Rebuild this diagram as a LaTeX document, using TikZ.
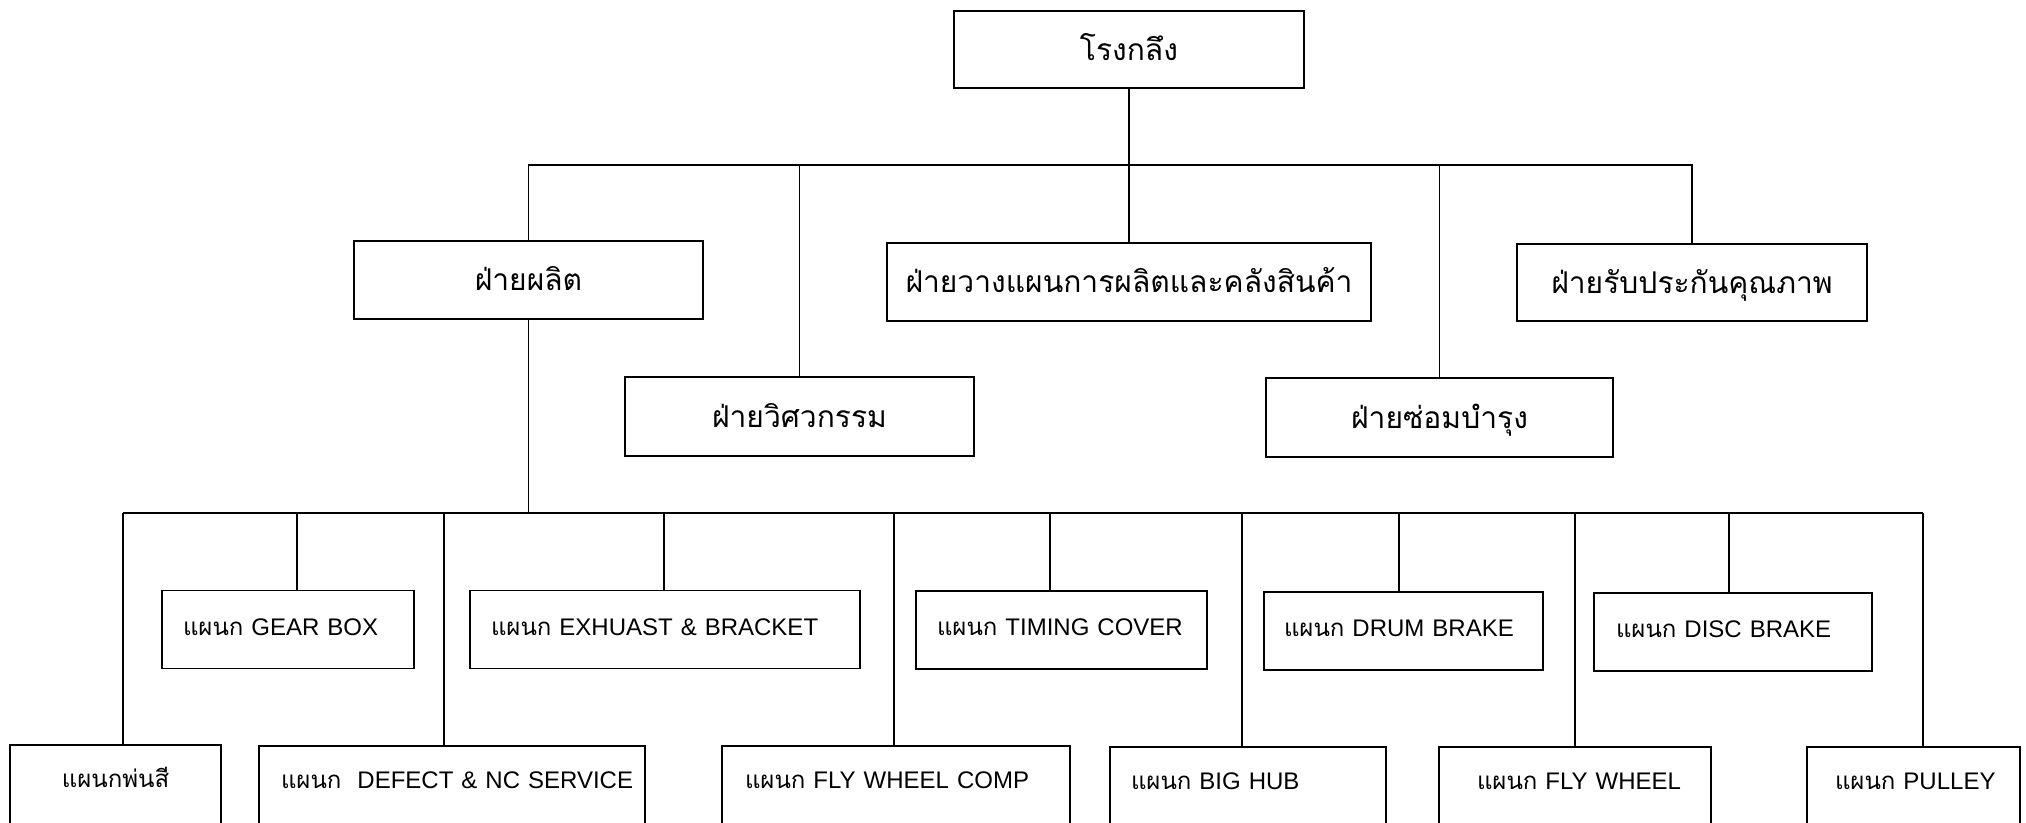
\documentclass[tikz,border=0pt]{standalone}
\usepackage{fontspec}
\setmainfont{Liberation Sans}
\newfontfamily\thai[Script=Thai]{Loma}
\begin{document}
\begin{tikzpicture}[x=0.5pt,y=-0.5pt,
  box/.style={draw=black, line width=0.9pt, inner ysep=0pt, minimum height=39pt,
    text height=9pt, text depth=3pt},
  head/.style={box, inner xsep=0pt, text height=12pt, text depth=1pt,
    font=\thai\fontsize{15}{18}\selectfont},
  dept/.style={box, align=left, font=\fontsize{12}{14}\selectfont},
  low/.style={minimum height=42pt, text depth=9pt},
  link/.style={draw=black, line width=0.75pt}]
\useasboundingbox (0,0) rectangle (2026,823);
\clip (0,0) rectangle (2026,823);

% level 1 and 2
\node[head, minimum width=175pt, minimum height=38.5pt] (top) at (1129,49.5) {โรงกลึง};
\node[head, minimum width=174.5pt] (prod) at (528.5,280) {ฝ่ายผลิต};
\node[head, minimum width=242pt] (plan) at (1129,282) {ฝ่ายวางแผนการผลิตและคลังสินค้า};
\node[head, minimum width=175pt, minimum height=38.5pt] (qa) at (1692,282.5) {ฝ่ายรับประกันคุณภาพ};
\node[head, minimum width=174.5pt, minimum height=39.5pt] (eng) at (799.5,416.5) {ฝ่ายวิศวกรรม};
\node[head, minimum width=173.5pt, minimum height=39.5pt] (maint) at (1439.5,417.5) {ฝ่ายซ่อมบำรุง};

% level 3 (upper row)
\node[dept, inner xsep=10.5pt, text width=105pt] (gear) at (288,629.5) {\mbox{{\thai แผนก} GEAR BOX}};
\node[dept, inner xsep=10.5pt, text width=174pt] (exh) at (665,629.5) {\mbox{{\thai แผนก} EXHUAST \& BRACKET}};
\node[dept, inner xsep=10.5pt, text width=124.5pt] (timing) at (1061.5,630) {\mbox{{\thai แผนก} TIMING COVER}};
\node[dept, inner xsep=10pt, text width=119.5pt] (drum) at (1403.5,631) {\mbox{{\thai แผนก} DRUM BRAKE}};
\node[dept, inner xsep=11pt, text width=117pt] (disc) at (1733,632) {\mbox{{\thai แผนก} DISC BRAKE}};

% level 3 (lower row)
\node[dept, low, align=center, inner xsep=10.5pt, text width=84.5pt] (paint) at (115.5,787) {\mbox{\thai แผนกพ่นสี}};
\node[dept, low, inner xsep=11pt, text width=171pt] (defect) at (452,788) {\mbox{{\thai แผนก}\ \ DEFECT \& NC SERVICE}};
\node[dept, low, inner xsep=11.5pt, text width=151pt] (fwc) at (896,788) {\mbox{{\thai แผนก} FLY WHEEL COMP}};
\node[dept, low, inner xsep=10.5pt, text width=117pt] (bighub) at (1248,789) {\mbox{{\thai แผนก} BIG HUB}};
\node[dept, low, inner xsep=19pt, text width=98pt] (fw) at (1575,789) {\mbox{{\thai แผนก} FLY WHEEL}};
\node[dept, low, inner xsep=14pt, text width=78.5pt] (pulley) at (1913.5,789) {\mbox{{\thai แผนก} PULLEY}};

% upper bus
\coordinate (b1) at (1129,165);
\draw[link] (top) -- (plan);
\draw[link] (prod.north) |- (qa.north |- b1) -- (qa.north);
\draw[link] (eng.north) -- (eng.north |- b1);
\draw[link] (maint.north) -- (maint.north |- b1);

% lower bus
\coordinate (dpaint) at (123,513);
\coordinate (dgear) at (297,513);
\coordinate (ddefect) at (444,513);
\coordinate (dexh) at (664,513);
\coordinate (dfwc) at (894,513);
\coordinate (dtiming) at (1050,513);
\coordinate (dbighub) at (1242,513);
\coordinate (ddrum) at (1399,513);
\coordinate (dfw) at (1575,513);
\coordinate (ddisc) at (1729,513);
\coordinate (dpulley) at (1923,513);
\draw[link] (prod.south) -- (prod.south |- dpaint);
\draw[link] (dpaint) -- (dpulley);
\foreach \d/\n in {dpaint/paint, dgear/gear, ddefect/defect, dexh/exh, dfwc/fwc,
  dtiming/timing, dbighub/bighub, ddrum/drum, dfw/fw, ddisc/disc, dpulley/pulley}
  \draw[link] (\d) -- (\d |- \n.north);
\end{tikzpicture}
\end{document}
